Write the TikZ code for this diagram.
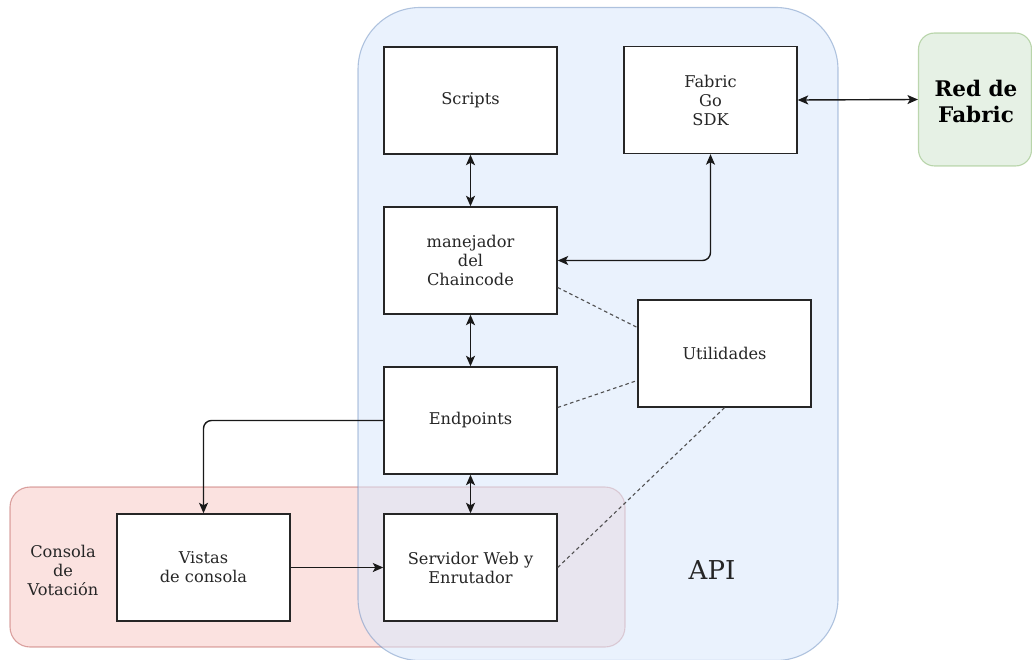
\documentclass[tikz,border=0pt]{standalone}
\usepackage{fontspec}
\setmainfont{DejaVu Serif}
\usetikzlibrary{arrows.meta,calc}
\definecolor{apifill}{HTML}{DAE8FC}
\definecolor{apiline}{HTML}{6C8EBF}
\definecolor{confill}{HTML}{F8CECC}
\definecolor{conline}{HTML}{B85450}
\definecolor{netfill}{HTML}{D5E8D4}
\definecolor{netline}{HTML}{82B366}
\definecolor{dashgray}{HTML}{505050}
\tikzset{
  every node/.style={font=\fontsize{16.2}{19}\selectfont, text=black!85},
  comp/.style={draw=black!85, line width=1.4pt, fill=white, minimum width=173pt, minimum height=107pt, align=center, inner sep=2pt},
  region/.style={line width=1.1pt, draw opacity=0.5, inner sep=0pt},
  link/.style={line width=1.4pt, draw=black!90, >={Stealth[length=10.5pt,width=9pt,inset=2.5pt]}},
  dotlink/.style={line width=1.1pt, draw=dashgray, dash pattern=on 3.5pt off 3pt},
}
\begin{document}
\begin{tikzpicture}[x=1pt,y=-1pt]
\useasboundingbox (0,0) rectangle (1032,660);

% containers: the console region lies under the translucent API region
\node[region, draw=conline, fill=confill, fill opacity=0.6, rounded corners=20pt, minimum width=615pt, minimum height=160pt] (consola) at (317.5,567) {};
\node[region, draw=apiline, fill=apifill, fill opacity=0.57, rounded corners=62pt, minimum width=480pt, minimum height=653pt] (api) at (598,334) {};
\node[region, draw=netline, fill=netfill, fill opacity=0.6, rounded corners=16pt, minimum width=113pt, minimum height=133pt] (red) at (975,99.5) {};

% container labels
\node[font=\fontsize{26}{30}\selectfont] (apilabel) at (712,570) {API};
\node[align=center] (conlabel) at (63,570) {Consola\\de\\Votación};
\node[align=center, font=\fontsize{21.5}{26}\selectfont\bfseries, text=black] (redlabel) at (976,101) {Red de\\Fabric};

% components
\node[comp] (scripts) at (470.5,100.5) {Scripts};
\node[comp] (sdk) at (710.5,100) {Fabric\\Go\\SDK};
\node[comp] (manejador) at (470.5,260.5) {manejador\\del\\Chaincode};
\node[comp] (util) at (724.5,353.5) {Utilidades};
\node[comp] (endpoints) at (470.5,420.5) {Endpoints};
\node[comp] (vistas) at (203.5,567.5) {Vistas\\de consola};
\node[comp] (servidor) at (470.5,567.5) {Servidor Web y\\Enrutador};

% dashed dependencies on the utilities
\coordinate (m1) at ($(manejador.east)+(0,27)$);
\coordinate (u1) at ($(util.west)+(0,-26)$);
\coordinate (e1) at ($(endpoints.east)+(0,-13)$);
\coordinate (u2) at ($(util.west)+(0,27)$);
\draw[dotlink] (m1) -- (u1);
\draw[dotlink] (e1) -- (u2);
\draw[dotlink] (servidor.east) -- (util.south);

% connectors
\draw[link, <->] (scripts.south) -- (manejador.north);
\draw[link, <->] (manejador.south) -- (endpoints.north);
\draw[link, <->] (endpoints.south) -- (servidor.north);
\draw[link, <->, rounded corners=8pt] (sdk.south) |- (manejador.east);
\draw[link, <->] (sdk.east) -- (red.west);
\draw[link, ->, rounded corners=8pt] (endpoints.west) -| (vistas.north);
\draw[link, ->] (vistas.east) -- (servidor.west);
\end{tikzpicture}
\end{document}
